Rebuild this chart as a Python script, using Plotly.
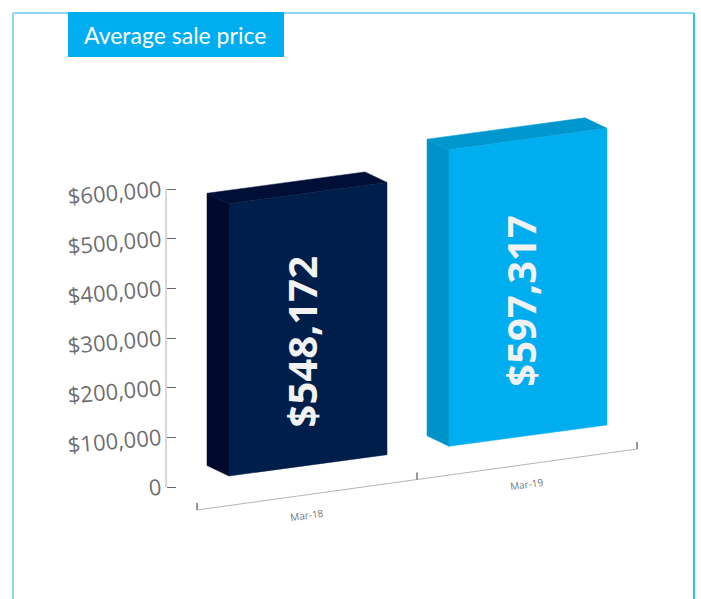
import plotly.graph_objects as go

# ---------------- data ----------------
categories = ["Mar-18", "Mar-19"]
values = [548172, 597317]
value_labels = ["$548,172", "$597,317"]
y_tick_vals = [0, 100000, 200000, 300000, 400000, 500000, 600000]
y_tick_text = ["0", "$100,000", "$200,000", "$300,000", "$400,000", "$500,000", "$600,000"]
title_text = "Average sale price"

# ---------------- styles / geometry ----------------
W, H = 701, 599
Y0_PIX = 487            # pixel row of value 0
Y600_PIX = 189          # pixel row of value 600,000
UNITS_PER_PX = 600000 / (Y0_PIX - Y600_PIX)
AXIS_X = 166

FRONT = ["#001E4A", "#00ADEE"]
SIDE = ["#000A2D", "#0093CA"]
TOP = ["#000F36", "#0097CF"]

BAR_LEFT0 = 229
BAR_STEP = 220
BAR_W = 158
BASE_PIX = 476
BASE_SLOPE = 0.135
DEPTH_DX = -22
DEPTH_DY_PX = 10.5

XL_X0, XL_Y0, XL_SLOPE = 197, 510, 0.1386
XL_STEP = 220


def val_at(pix):
    """pixel row -> value units on the y axis"""
    return (Y0_PIX - pix) * UNITS_PER_PX


def base_val(x):
    return val_at(BASE_PIX - BASE_SLOPE * (x - BAR_LEFT0))


def xline_pix(x):
    return XL_Y0 - XL_SLOPE * (x - XL_X0)


def px(x):
    return x / W


def py(y):
    return 1 - y / H


fig = go.Figure()

# x axis (skewed floor line)
x_end = XL_X0 + XL_STEP * len(categories)
fig.add_trace(go.Scatter(x=[XL_X0, x_end], y=[val_at(xline_pix(XL_X0)), val_at(xline_pix(x_end))],
                         mode="lines", line=dict(color="#b5b5b5", width=1),
                         hoverinfo="skip", showlegend=False))
for k in range(len(categories) + 1):
    xt = XL_X0 + XL_STEP * k
    yb = xline_pix(xt)
    fig.add_trace(go.Scatter(x=[xt, xt], y=[val_at(yb), val_at(yb - 7)], mode="lines",
                             line=dict(color="#555555", width=1.2),
                             hoverinfo="skip", showlegend=False))

dd = DEPTH_DY_PX * UNITS_PER_PX
for i, (cat, v) in enumerate(zip(categories, values)):
    xl = BAR_LEFT0 + BAR_STEP * i
    xr = xl + BAR_W
    bl = base_val(xl)
    br = base_val(xr)
    side_x = [xl, xl, xl + DEPTH_DX, xl + DEPTH_DX, xl]
    side_y = [bl, bl + v, bl + v + dd, bl + dd, bl]
    top_x = [xl, xr, xr + DEPTH_DX, xl + DEPTH_DX, xl]
    top_y = [bl + v, br + v, br + v + dd, bl + v + dd, bl + v]
    front_x = [xl, xr, xr, xl, xl]
    front_y = [bl, br, br + v, bl + v, bl]
    for xs, ys, c in [(side_x, side_y, SIDE[i]), (top_x, top_y, TOP[i]), (front_x, front_y, FRONT[i])]:
        fig.add_trace(go.Scatter(x=xs, y=ys, fill="toself", fillcolor=c, mode="lines",
                                 line=dict(color=c, width=0.5), hoverinfo="skip", showlegend=False))
    # value label
    fig.add_annotation(x=(xl + xr) / 2 - 7, y=(bl + br) / 2 + v * 0.455, xref="x", yref="y",
                       text=value_labels[i], showarrow=False, textangle=-90,
                       xanchor="center", yanchor="middle",
                       font=dict(family="Open Sans", size=40, color="#f2f2f2", weight="bold"))
    # category label
    xc = XL_X0 + XL_STEP * (i + 0.5)
    fig.add_annotation(x=xc, y=val_at(xline_pix(xc) + 20), xref="x", yref="y",
                       text=cat, showarrow=False, textangle=-8,
                       xanchor="center", yanchor="middle",
                       font=dict(family="Open Sans", size=10, color="#777777"))

# vertical value axis line
fig.add_shape(type="line", xref="x", yref="y", x0=AXIS_X, x1=AXIS_X,
              y0=y_tick_vals[0], y1=y_tick_vals[-1], line=dict(color="#b0b0b0", width=1))

# frame
fig.add_shape(type="line", xref="paper", yref="paper", x0=px(13), x1=px(694), y0=py(13), y1=py(13),
              line=dict(color="#8ED6F1", width=2))
fig.add_shape(type="line", xref="paper", yref="paper", x0=px(13), x1=px(13), y0=py(13), y1=py(599),
              line=dict(color="#8ED6F1", width=2))
fig.add_shape(type="line", xref="paper", yref="paper", x0=px(694), x1=px(694), y0=py(13), y1=py(599),
              line=dict(color="#2BC3F3", width=2))
# title box
fig.add_shape(type="rect", xref="paper", yref="paper", x0=px(68), x1=px(284), y0=py(57), y1=py(12),
              fillcolor="#00AEEF", line=dict(width=0))
fig.add_annotation(x=px(175), y=py(35), xref="paper", yref="paper", text=title_text,
                   showarrow=False, xanchor="center", yanchor="middle",
                   font=dict(family="Lato", size=23, color="white"))

fig.update_layout(
    width=W, height=H, autosize=False,
    margin=dict(l=0, r=0, t=0, b=0),
    paper_bgcolor="white", plot_bgcolor="white",
    xaxis=dict(range=[0, W], visible=False, fixedrange=True),
    yaxis=dict(range=[val_at(H), val_at(0)], anchor="free", position=AXIS_X / W,
               tickvals=y_tick_vals, ticktext=y_tick_text, tickangle=-5,
               ticks="inside", ticklen=9, tickcolor="#666666", tickwidth=1,
               ticklabelstandoff=5,
               showgrid=False, zeroline=False, showline=False,
               tickfont=dict(family="Open Sans", size=22, color="#6D6E71")),
    showlegend=False,
)

fig.write_html("out.html", config={"displayModeBar": False},
               post_script="document.body.style.margin='0';document.body.style.overflow='hidden';")
